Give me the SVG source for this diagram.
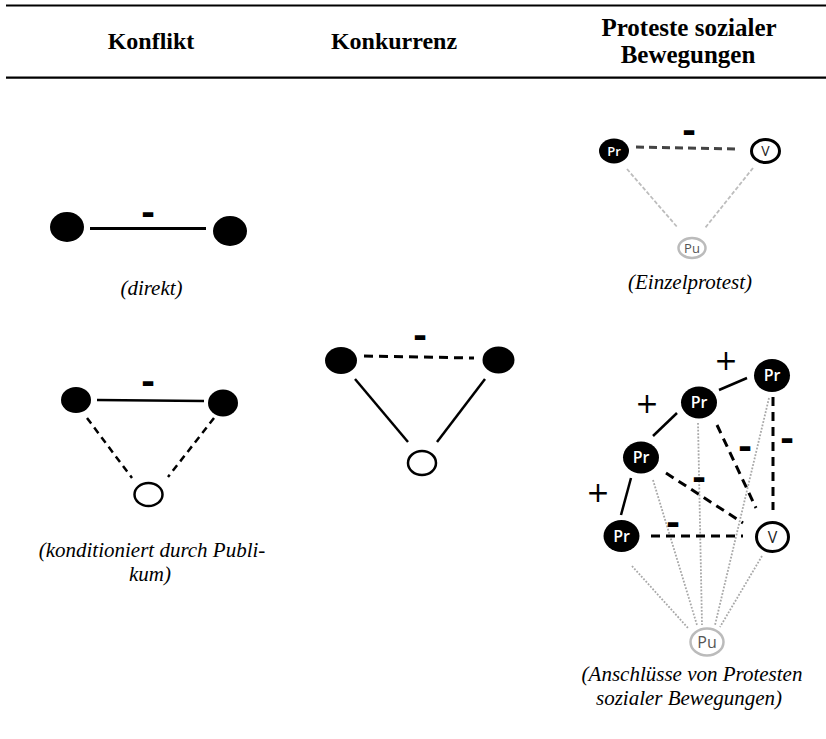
<svg xmlns="http://www.w3.org/2000/svg" width="826" height="739" viewBox="0 0 826 739">
<style>
.hd{font-family:"Liberation Serif","Times New Roman",serif;font-weight:bold;font-size:24px;fill:#000;text-anchor:middle}
.hd2{font-size:25px}
.cap{font-family:"Liberation Serif","Times New Roman",serif;font-style:italic;font-size:21px;fill:#000;text-anchor:middle}
.rule{stroke:#000;stroke-width:2.2}
.fill{fill:#000}
.open{fill:#fff;stroke:#000;stroke-width:2.5}
.vopen{fill:#fff;stroke:#000;stroke-width:3}
.pu{fill:#fff;stroke:#bbb;stroke-width:2.5}
.lbl{font-family:"Open Sans","DejaVu Sans",sans-serif;font-weight:600;fill:#fff;text-anchor:middle}
.lblv{font-family:"Open Sans","DejaVu Sans",sans-serif;fill:#222;text-anchor:middle}
.lblpu{font-family:"Open Sans","DejaVu Sans",sans-serif;fill:#555;text-anchor:middle}
.solid{stroke:#000;fill:none;stroke-width:2.5}
.dash{stroke:#000;fill:none;stroke-width:3;stroke-dasharray:9 6}
.dashs{stroke:#000;fill:none;stroke-width:2.5;stroke-dasharray:7 5}
.dashg{stroke:#444;fill:none;stroke-width:3;stroke-dasharray:8 5}
.grayd{stroke:#bdbdbd;fill:none;stroke-width:1.8;stroke-dasharray:4 2}
.dot{stroke:#a8a8a8;fill:none;stroke-width:1.8;stroke-dasharray:1.8 1.6}
.minus{font-family:"DejaVu Sans",sans-serif;font-weight:bold;font-size:34px;fill:#000;text-anchor:middle}
.plus{font-family:"DejaVu Sans",sans-serif;font-size:28px;fill:#000;text-anchor:middle}
</style>

<g id="header">
  <line class="rule" x1="6" y1="5.5" x2="826" y2="5.5"/>
  <line class="rule" x1="6" y1="77.7" x2="826" y2="77.7"/>
  <text class="hd" x="151" y="49">Konflikt</text>
  <text class="hd" x="394" y="49">Konkurrenz</text>
  <text class="hd hd2" x="689" y="36">Proteste sozialer</text>
  <text class="hd hd2" x="688" y="63">Bewegungen</text>
</g>

<g id="connectors">
  <line x1="90" y1="228.5" x2="206" y2="228.5" stroke="#000" stroke-width="3.2"/>
  <line class="solid" x1="97" y1="400" x2="204" y2="401"/>
  <line class="dashs" x1="87" y1="418" x2="132" y2="478"/>
  <line class="dashs" x1="214" y1="418" x2="168" y2="477"/>
  <line class="dash" x1="364" y1="356" x2="474" y2="358"/>
  <line class="solid" x1="355" y1="379" x2="408" y2="442"/>
  <line class="solid" x1="485" y1="379" x2="437" y2="442"/>
  <line class="dashg" x1="636" y1="147" x2="740" y2="149"/>
  <line class="grayd" x1="627" y1="169" x2="678" y2="228"/>
  <line class="grayd" x1="753" y1="168" x2="705" y2="228"/>
  <line class="dot" x1="632" y1="566" x2="688" y2="628"/>
  <line class="dot" x1="653" y1="480" x2="697" y2="625"/>
  <line class="dot" x1="698" y1="423" x2="702" y2="625"/>
  <line class="dot" x1="769" y1="398" x2="715" y2="625"/>
  <line class="dot" x1="762" y1="556" x2="720" y2="627"/>
  <line class="solid" stroke-width="3" x1="719" y1="390" x2="747" y2="378"/>
  <line class="solid" stroke-width="3" x1="653" y1="436" x2="677" y2="413"/>
  <line class="solid" stroke-width="3" x1="631" y1="478" x2="621" y2="515"/>
  <line class="dash" x1="773" y1="397" x2="773" y2="510"/>
  <line class="dash" x1="717" y1="425" x2="756" y2="508"/>
  <line class="dash" x1="666" y1="473" x2="743" y2="523"/>
  <line class="dash" x1="651" y1="536" x2="743" y2="536"/>
</g>

<g id="signs">
  <text class="minus" x="148" y="224">-</text>
  <text class="minus" x="148" y="393">-</text>
  <text class="minus" x="420" y="347">-</text>
  <text class="minus" x="689" y="142">-</text>
  <text class="minus" x="787" y="450">-</text>
  <text class="minus" x="745" y="458">-</text>
  <text class="minus" x="699" y="489">-</text>
  <text class="minus" x="673" y="534">-</text>
  <text class="plus" x="726" y="370">+</text>
  <text class="plus" x="647" y="413">+</text>
  <text class="plus" x="598" y="502">+</text>
</g>

<g id="konflikt-direkt-a"><ellipse class="fill" cx="67" cy="227" rx="17" ry="15"/></g>
<g id="konflikt-direkt-b"><ellipse class="fill" cx="230" cy="231" rx="17" ry="15"/></g>
<text class="cap" x="151.5" y="295">(direkt)</text>

<g id="konflikt-kond-a"><ellipse class="fill" cx="76" cy="400" rx="15" ry="13"/></g>
<g id="konflikt-kond-b"><ellipse class="fill" cx="223" cy="403" rx="15" ry="13.5"/></g>
<g id="konflikt-kond-pub"><ellipse class="open" cx="148.5" cy="494.5" rx="14" ry="11.5"/></g>
<text class="cap" x="152" y="557">(konditioniert durch Publi-</text>
<text class="cap" x="150" y="581">kum)</text>

<g id="konkurrenz-a"><ellipse class="fill" cx="341" cy="360.5" rx="16" ry="13.5"/></g>
<g id="konkurrenz-b"><ellipse class="fill" cx="498.5" cy="360" rx="16" ry="13.5"/></g>
<g id="konkurrenz-pub"><ellipse class="open" cx="422" cy="463" rx="14" ry="12"/></g>

<g id="einzel-pr"><ellipse class="fill" cx="614" cy="151" rx="15" ry="12.5"/><text class="lbl" font-size="13" x="614" y="155.5">Pr</text></g>
<g id="einzel-v"><ellipse class="vopen" cx="765.5" cy="151" rx="14" ry="11.5"/><text class="lblv" font-size="14" x="765.5" y="156">V</text></g>
<g id="einzel-pu"><ellipse class="pu" cx="692" cy="248" rx="13.5" ry="10"/><text class="lblpu" font-size="13" x="692" y="252.5">Pu</text></g>
<text class="cap" x="690" y="289">(Einzelprotest)</text>

<g id="netz-pr1"><ellipse class="fill" cx="772" cy="375.5" rx="18" ry="16.5"/><text class="lbl" font-size="16" x="772" y="381">Pr</text></g>
<g id="netz-pr2"><ellipse class="fill" cx="699" cy="402.5" rx="18" ry="16"/><text class="lbl" font-size="16" x="699" y="408">Pr</text></g>
<g id="netz-pr3"><ellipse class="fill" cx="641" cy="457.5" rx="18" ry="16"/><text class="lbl" font-size="16" x="641" y="463">Pr</text></g>
<g id="netz-pr4"><ellipse class="fill" cx="621.5" cy="536" rx="18" ry="16"/><text class="lbl" font-size="16" x="621.5" y="541.5">Pr</text></g>
<g id="netz-v"><ellipse class="vopen" cx="772.5" cy="537" rx="16" ry="14.5"/><text class="lblv" font-size="16" x="772.5" y="542.5">V</text></g>
<g id="netz-pu"><ellipse class="pu" cx="707" cy="642" rx="16.5" ry="13.5"/><text class="lblpu" font-size="16" x="707" y="647.5">Pu</text></g>
<text class="cap" x="692" y="681">(Anschlüsse von Protesten</text>
<text class="cap" x="689" y="705">sozialer Bewegungen)</text>
</svg>
